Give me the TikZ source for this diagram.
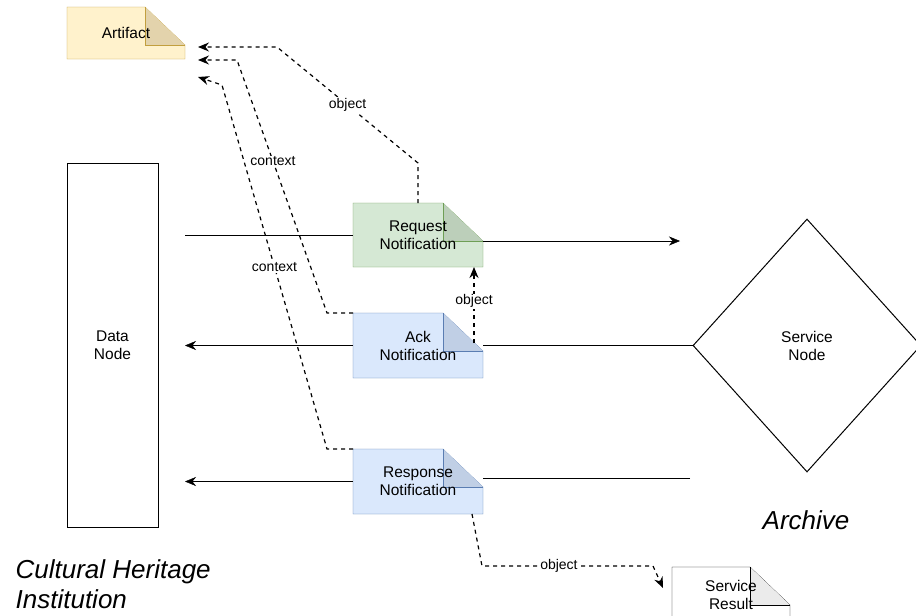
\documentclass[tikz,border=0pt]{standalone}
\usepackage{fontspec}
\setmainfont{Liberation Sans}
\usetikzlibrary{shapes.geometric,arrows.meta,calc,backgrounds}

\definecolor{artfill}{HTML}{FFF2CC}
\definecolor{artline}{HTML}{C29F3E}
\definecolor{artfold}{HTML}{E3D3AC}
\definecolor{reqfill}{HTML}{D5E8D4}
\definecolor{reqline}{HTML}{6E9E55}
\definecolor{reqfold}{HTML}{BCCFBA}
\definecolor{ackfill}{HTML}{DAE8FC}
\definecolor{ackline}{HTML}{5A7DB2}
\definecolor{ackfold}{HTML}{C0CFE5}
\definecolor{resfold}{HTML}{EBEBEB}

% folded note drawn round a named node
\newcommand{\foldnote}[4]{%
  \filldraw[fill=#2, draw=#3] (#1.north west) -- ($(#1.north east)+(-40,0)$)
    -- ($(#1.north east)+(0,38)$) -- (#1.south east) -- (#1.south west) -- cycle;
  \filldraw[fill=#4, draw=#3] ($(#1.north east)+(-40,0)$) -- ($(#1.north east)+(-40,38)$)
    -- ($(#1.north east)+(0,38)$);
}

\tikzset{
  notebox/.style={minimum width=130pt, minimum height=65pt, inner sep=0pt, outer sep=0pt,
    align=center, font=\fontsize{15.5}{18}\selectfont},
  linklabel/.style={fill=white, inner sep=1pt, font=\fontsize{14}{16}\selectfont},
  reflink/.style={line width=1.2pt, dash pattern=on 4pt off 4pt},
  place/.style={inner sep=0pt, font=\fontsize{26}{30}\selectfont\itshape}
}

\begin{document}
\begin{tikzpicture}[x=1pt, y=-1pt, line width=1.3pt, >={Stealth[length=11pt,width=9pt]}]
    \useasboundingbox (0,0) rectangle (916,616);

    % Institutions
    \node[draw, line width=1pt, minimum width=91pt, minimum height=364pt, align=center,
      font=\fontsize{15.5}{18}\selectfont] (datanode) at (112.5,345) {Data\\Node};
    \node[draw, line width=1pt, diamond, minimum width=228pt, minimum height=253pt, align=center,
      font=\fontsize{15.5}{18}\selectfont] (service) at (807,345.5) {Service\\Node};
    \node[place, anchor=north west, align=left] (chi) at (15,559) {Cultural Heritage\\Institution};
    \node[place] (archive) at (806,520) {Archive};

    % Notes
    \node[notebox, minimum width=118pt, minimum height=52pt] (artifact) at (126,33) {Artifact};
    \node[notebox, minimum height=64pt] (request) at (418,235) {Request\\Notification};
    \node[notebox] (ack) at (418,345.5) {Ack\\Notification};
    \node[notebox] (response) at (418,481.5) {Response\\Notification};
    \node[notebox, minimum width=118pt, minimum height=56pt] (result) at (731,595) {Service\\Result};

    \begin{pgfonlayer}{background}
        \fill[white] (0,0) rectangle (916,616);
        \foldnote{artifact}{artfill}{artline}{artfold}
        \foldnote{request}{reqfill}{reqline}{reqfold}
        \foldnote{ack}{ackfill}{ackline}{ackfold}
        \foldnote{response}{ackfill}{ackline}{ackfold}
        \foldnote{result}{white}{black}{resfold}
    \end{pgfonlayer}

    % Free ends
    \coordinate (reqstart) at (185,235);
    \coordinate (reqend) at (680,241);
    \coordinate (ackend) at (185,345.5);
    \coordinate (resstart) at (690,478);
    \coordinate (resend) at (185,481.5);
    \coordinate (artobj) at (198,47);
    \coordinate (artackctx) at (198,60);
    \coordinate (artresctx) at (198,77);

    % Messages
    \draw (reqstart) -- (request.west);
    \draw[->] ($(request.north east)+(0,38)$) -- (reqend);
    \draw (service.west) -- (ack.east);
    \draw[->] (ack.west) -- (ackend);
    \draw (resstart) -- (resstart -| response.east);
    \draw[->] (response.west) -- (resend);

    % Links to the artifact
    \draw[reflink, ->] (request.north) -- ++(0,-40) -- node[linklabel]{object} (277,47) -- (artobj);
    \draw[reflink, ->] (ack.north west) -- ++(-26,0) -- node[linklabel, pos=0.6]{context} (237,60) -- (artackctx);
    \draw[reflink, ->] (response.north west) -- ++(-26,0) -- node[linklabel, pos=0.5]{context} (222,85) -- (artresctx);

    % Object links
    \draw[reflink, ->] ($(ack.north east)+(-9,30)$) -- node[linklabel, pos=0.55]{object} ($(request.south east)+(-9,0)$);
    \draw[reflink, ->] ($(response.south east)+(-11,0)$) -- (482,566)
      -- node[linklabel, pos=0.45]{object} (653,566) -- ($(result.north west)+(-9,21)$);
\end{tikzpicture}
\end{document}
